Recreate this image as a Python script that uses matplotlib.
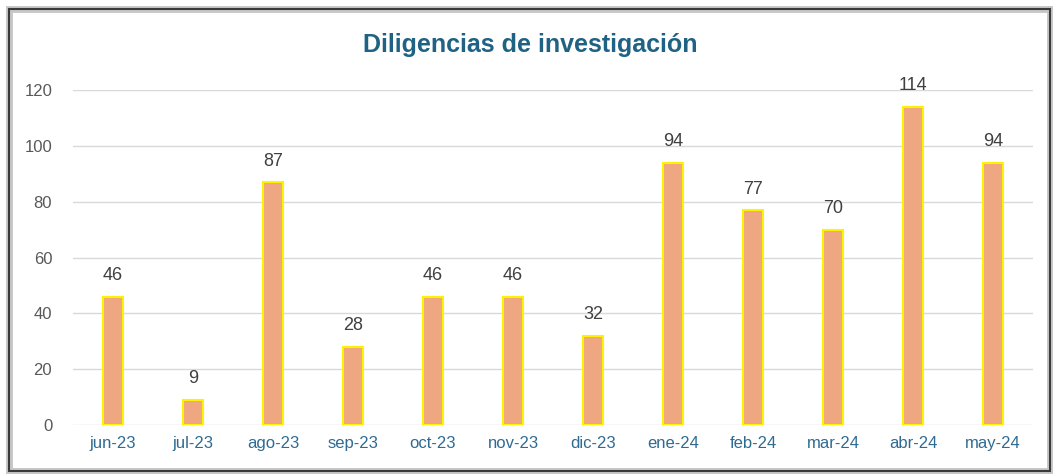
import matplotlib.pyplot as plt
from matplotlib.patches import Rectangle

# Monthly counts
months = ["jun-23", "jul-23", "ago-23", "sep-23", "oct-23", "nov-23",
          "dic-23", "ene-24", "feb-24", "mar-24", "abr-24", "may-24"]
values = [46, 9, 87, 28, 46, 46, 32, 94, 77, 70, 114, 94]
yticks = [0, 20, 40, 60, 80, 100, 120]

plt.rcParams["font.family"] = ["Liberation Sans", "DejaVu Sans"]

fig = plt.figure(figsize=(10.53, 4.74), dpi=100)
ax = fig.add_axes([73 / 1053, 49 / 474, 960 / 1053, 335 / 474])

# Frame around the chart
fig.patches.append(Rectangle((9 / 1053, 3 / 474), 1041 / 1053, 462 / 474,
                             transform=fig.transFigure, fill=False,
                             edgecolor="#C8C8C8", linewidth=5))
fig.patches.append(Rectangle((9 / 1053, 3 / 474), 1041 / 1053, 462 / 474,
                             transform=fig.transFigure, fill=False,
                             edgecolor="#3A3A3A", linewidth=1.5))

x = range(len(months))
bars = ax.bar(x, values, width=0.26, color="#EFA781",
              edgecolor="#FFF200", linewidth=1.5, zorder=3)

for rect, v in zip(bars, values):
    ax.annotate(str(v), (rect.get_x() + rect.get_width() / 2, v),
                xytext=(0, 9), textcoords="offset points",
                ha="center", va="bottom", fontsize=13, color="#404040")

ax.set_xlim(-0.5, len(months) - 0.5)
ax.set_ylim(0, 120)
ax.set_yticks(yticks)
ax.set_xticks(list(x))
ax.set_xticklabels(months)
ax.grid(axis="y", color="#D9D9D9", linewidth=1, zorder=0)
ax.tick_params(axis="y", length=0, pad=15, labelsize=12, labelcolor="#595959")
ax.tick_params(axis="x", length=0, pad=8, labelsize=12, labelcolor="#2E6B93")
for s in ax.spines.values():
    s.set_visible(False)

fig.text(530 / 1053, 1 - 45 / 474, "Diligencias de investigación",
         ha="center", va="center", fontsize=18, fontweight="bold",
         color="#1F6284")

fig.savefig("out.png", dpi=100)
